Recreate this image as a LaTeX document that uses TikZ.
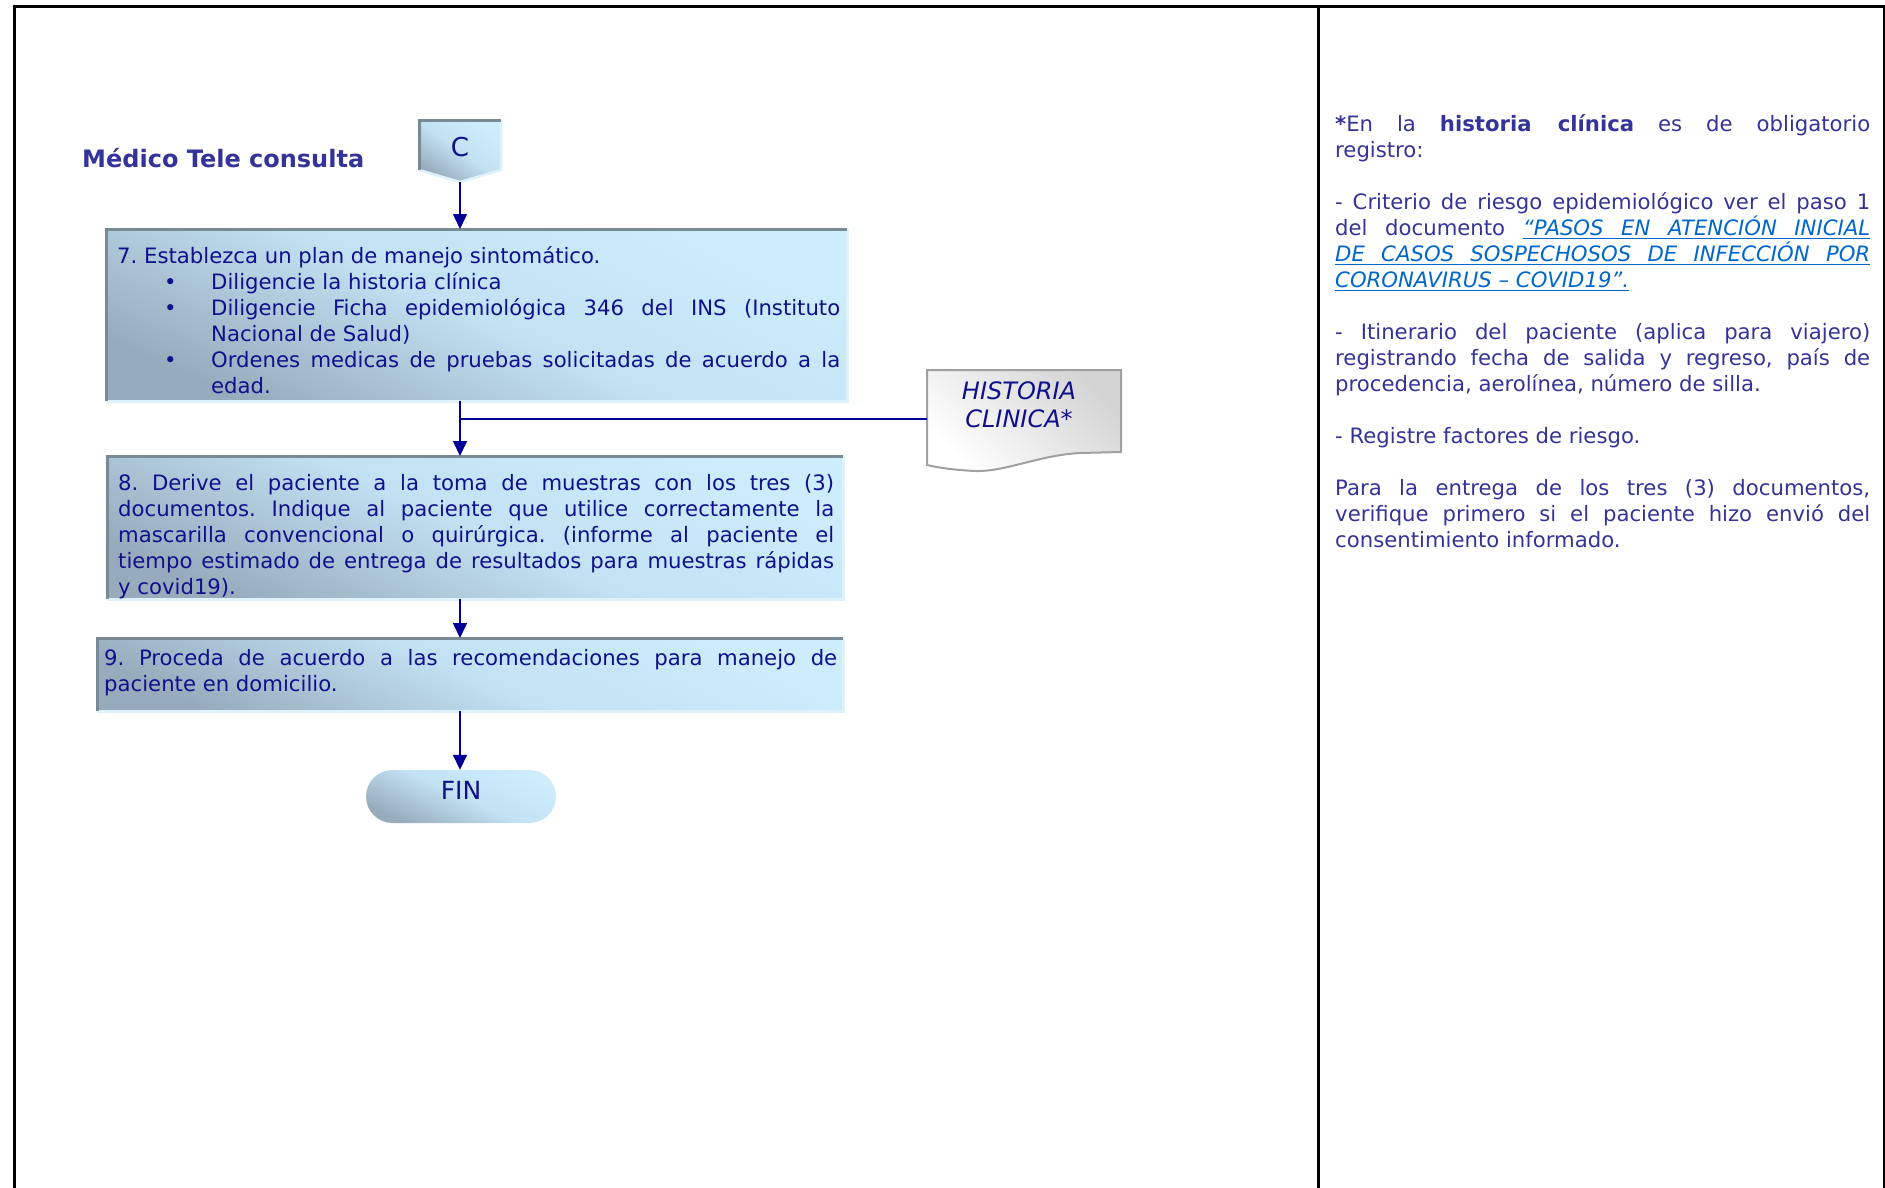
\documentclass[tikz,border=0pt]{standalone}
\usepackage{fontspec}
\setmainfont{DejaVu Sans}
\usetikzlibrary{arrows.meta,shapes.misc,positioning}

\definecolor{boxlight}{RGB}{205,236,252}
\definecolor{boxmid}{RGB}{194,225,243}
\definecolor{boxdark}{RGB}{150,172,188}
\definecolor{rimgray}{RGB}{120,138,150}
\definecolor{rimlight}{RGB}{222,242,252}
\definecolor{stepblue}{RGB}{16,16,140}
\definecolor{noteblue}{RGB}{51,51,153}
\definecolor{linkblue}{RGB}{0,102,204}
\definecolor{flowblue}{RGB}{0,0,150}
\definecolor{docgray}{RGB}{160,160,160}
\definecolor{docshade}{RGB}{212,212,212}

\newcommand\boxfont{\fontsize{21.2}{26}\selectfont}
% palabra y espacio subrayados
\newcommand\ulw[1]{\sbox0{#1}\rlap{\rule[-4pt]{\wd0}{1.5pt}}\usebox0}
\newcommand\uls{\leaders\hrule height -2.5pt depth 4pt\hskip\fontdimen2\font plus\fontdimen3\font minus\fontdimen4\font\relax}
% vineta de lista
\newcommand\bitem{\par\hangindent=94pt\hangafter=1\makebox[94pt][l]{\hspace{47pt}\textbullet}}
\hyphenpenalty=10000
\tolerance=9999
\frenchspacing

\begin{document}
\begin{tikzpicture}[x=1pt,y=-1pt,
    stepbox/.style={rectangle,inner sep=0pt,anchor=north west,
      top color=boxlight,bottom color=boxdark,middle color=boxmid,shading angle=-25},
    boxtext/.style={anchor=base west,inner sep=0pt,align=justify,text=stepblue,font=\boxfont},
    flow/.style={draw=flowblue,line width=1.6pt,-{Triangle[length=15pt,width=14pt]}},
    flowline/.style={draw=flowblue,line width=1.6pt},
    rimdark/.style={draw=rimgray,line width=3pt},
    rimlit/.style={draw=rimlight,line width=2.5pt},
    frame/.style={draw=black,line width=3pt}]
  \useasboundingbox (0,0) rectangle (1885,1187);
  % marco de la tabla
  \draw[frame] (14,1190) -- (14,6) -- (1884,6) -- (1884,1190);
  \draw[frame] (1318,6) -- (1318,1190);

  % titulo
  \node[anchor=base west,inner sep=0pt,text=noteblue,font=\fontsize{24}{28}\selectfont\bfseries] (titulo) at (82,167) {Médico Tele consulta};

  % conector C
  \path[top color=boxlight,bottom color=boxdark,middle color=boxmid,shading angle=-35]
    (419,120) -- (501,120) -- (501,170) -- (460,182) -- (419,170) -- cycle;
  \draw[rimlit] (501,120) -- (501,170) -- (460,182) -- (419,170);
  \draw[rimdark] (419,170) -- (419,120) -- (501,120);
  \node[inner sep=0pt,minimum width=82pt,minimum height=62pt,text depth=8pt,text=stepblue,font=\fontsize{26}{30}\selectfont] (c) at (460,151) {C};

  % pasos
  \node[stepbox,minimum width=741pt,minimum height=172pt] (b7) at (106,229) {};
  \node[stepbox,minimum width=736pt,minimum height=143pt] (b8) at (107,456) {};
  \node[stepbox,minimum width=746pt,minimum height=73pt] (b9) at (97,638) {};
  \foreach \n in {b7,b8,b9}{
      \draw[rimlit] (\n.north east) -- (\n.south east) -- (\n.south west);
      \draw[rimdark] (\n.south west) -- (\n.north west) -- (\n.north east);
    }

  \node[boxtext,text width=723pt] (t7) at (117,263) {7. Establezca un plan de manejo sintomático.
    \bitem Diligencie la historia clínica
    \bitem Diligencie Ficha epidemiológica 346 del INS (Instituto\linebreak Nacional de Salud)
    \bitem Ordenes medicas de pruebas solicitadas de acuerdo a la\linebreak edad.\par};
  \node[boxtext,text width=716pt] (t8) at (118,490) {8. Derive el paciente a la toma de muestras con los tres (3)\linebreak
    documentos. Indique al paciente que utilice correctamente la\linebreak
    mascarilla convencional o quirúrgica. (informe al paciente el\linebreak
    tiempo estimado de entrega de resultados para muestras rápidas\linebreak
    y covid19).};
  \node[boxtext,text width=733pt] (t9) at (104,665) {9. Proceda de acuerdo a las recomendaciones para manejo de\linebreak
    paciente en domicilio.};

  % fin
  \node[stepbox,anchor=center,rounded rectangle,minimum width=190pt,minimum height=53pt,text depth=13pt,text=stepblue,font=\fontsize{25}{30}\selectfont] (fin) at (461,796.5) {FIN};

  % documento historia clinica
  \path[top color=docshade,bottom color=white,shading angle=-45,draw=docgray,line width=2pt]
    (927,370) -- (1121,370) -- (1121,452) -- (1080,453)
    .. controls (1040,455) and (1005,472) .. (975,471)
    .. controls (955,470) and (940,468) .. (927,465) -- cycle;
  \node[inner sep=0pt,align=center,text=stepblue,font=\fontsize{24}{28}\selectfont\itshape] (hclabel) at (1019,405) {HISTORIA\\CLINICA*};
  \coordinate (hcin) at (927,419);

  % flechas
  \draw[flow] (c.south) -- (b7.north -| c.south);
  \draw[flow] (b7.south -| c.south) -- (b8.north -| c.south);
  \draw[flow] (b8.south -| c.south) -- (b9.north -| c.south);
  \draw[flow] (b9.south -| c.south) -- (fin.north -| c.south);
  \draw[flowline] (hcin) -- (hcin -| c.south);

  % notas
  \node[anchor=base west,inner sep=0pt,text width=535pt,align=justify,text=noteblue,font=\boxfont] (notas) at (1335,131) {\textbf{*}En la \textbf{historia clínica} es de obligatorio\linebreak registro:\par\vspace{26pt}
    - Criterio de riesgo epidemiológico ver el paso 1\linebreak del documento {\color{linkblue}\itshape\ulw{“PASOS}\uls\ulw{EN}\uls\ulw{ATENCIÓN}\uls\ulw{INICIAL}\linebreak
    \ulw{DE}\uls\ulw{CASOS}\uls\ulw{SOSPECHOSOS}\uls\ulw{DE}\uls\ulw{INFECCIÓN}\uls\ulw{POR}\linebreak
    \ulw{CORONAVIRUS}\uls\ulw{–}\uls\ulw{COVID19”.}}\par\vspace{26pt}
    - Itinerario del paciente (aplica para viajero)\linebreak registrando fecha de salida y regreso, país de\linebreak procedencia, aerolínea, número de silla.\par\vspace{26pt}
    - Registre factores de riesgo.\par\vspace{26pt}
    Para la entrega de los tres (3) documentos,\linebreak verifique primero si el paciente hizo envió del\linebreak consentimiento informado.};
\end{tikzpicture}
\end{document}
